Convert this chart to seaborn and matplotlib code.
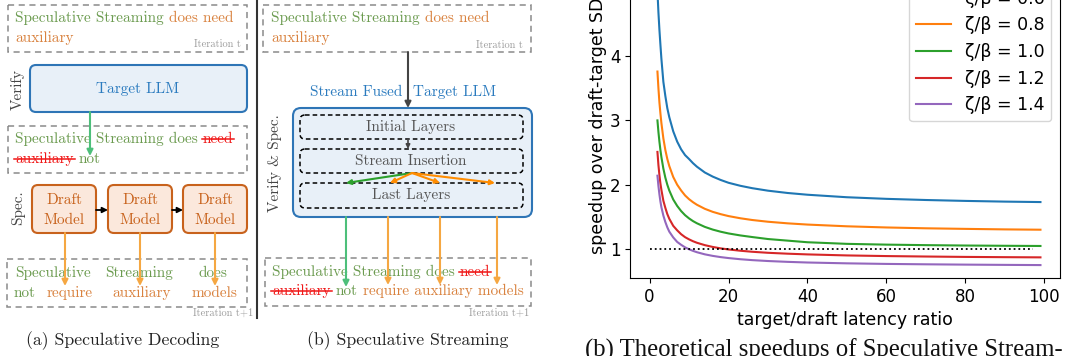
import matplotlib
matplotlib.use("Agg")
import pandas as pd
import matplotlib.pyplot as plt
import seaborn as sns
from matplotlib.patches import FancyBboxPatch, Rectangle

# ---- chart data ----
latency_ratio = [2, 2.25, 2.5, 2.75, 3, 3.5, 4, 4.5, 5, 6, 7, 8, 9, 10, 11, 12, 14, 16, 18, 20,
                 23, 26, 30, 35, 40, 50, 60, 70, 80, 90, 99]
speedup_06 = [5.01, 4.68, 4.41, 4.18, 3.96, 3.60, 3.38, 3.19, 3.05, 2.83, 2.67, 2.55, 2.46, 2.40, 2.335,
              2.28, 2.19, 2.126, 2.074, 2.03, 1.983, 1.946, 1.907, 1.871, 1.844, 1.805, 1.78, 1.762,
              1.748, 1.737, 1.73]
speedup_08 = [3.76, 3.50, 3.28, 3.11, 2.96, 2.72, 2.54, 2.40, 2.29, 2.12, 2.00, 1.91, 1.833, 1.775, 1.728,
              1.688, 1.625, 1.578, 1.542, 1.512, 1.478, 1.451, 1.424, 1.399, 1.38, 1.353, 1.335, 1.322,
              1.313, 1.305, 1.30]
speedup_10 = [3.00, 2.82, 2.67, 2.54, 2.43, 2.25, 2.11, 2.00, 1.91, 1.77, 1.67, 1.59, 1.526, 1.476, 1.434,
              1.40, 1.344, 1.302, 1.269, 1.242, 1.211, 1.186, 1.155, 1.13, 1.105, 1.08, 1.068, 1.06,
              1.054, 1.05, 1.047]
speedup_12 = [2.51, 2.305, 2.15, 2.02, 1.92, 1.75, 1.64, 1.543, 1.47, 1.36, 1.29, 1.23, 1.184, 1.15, 1.121,
              1.097, 1.06, 1.032, 1.01, 0.993, 0.973, 0.957, 0.941, 0.927, 0.916, 0.90, 0.89, 0.883,
              0.877, 0.873, 0.87]
speedup_14 = [2.14, 1.98, 1.85, 1.74, 1.65, 1.52, 1.42, 1.337, 1.27, 1.18, 1.11, 1.065, 1.026, 0.996, 0.971,
              0.95, 0.917, 0.893, 0.874, 0.859, 0.841, 0.827, 0.813, 0.80, 0.79, 0.777, 0.768, 0.762,
              0.757, 0.753, 0.75]
ratio_labels = ["ζ/β = 0.6", "ζ/β = 0.8", "ζ/β = 1.0", "ζ/β = 1.2", "ζ/β = 1.4"]
baseline_x = [0, 97]
baseline_y = [1, 1]
x_ticks = [0, 20, 40, 60, 80, 100]
y_ticks = [1, 2, 3, 4, 5]

# ---- diagram text ----
verified_words = "Speculative Streaming"
draft_tokens_t = "does need"
draft_tokens_t2 = "auxiliary"
rejected_words = ["need", "auxiliary"]
accepted_word = "not"
new_draft_words = ["require", "auxiliary", "models"]
sd_row1 = ["Speculative", "Streaming", "does"]
sd_row2 = ["not", "require", "auxiliary", "models"]
layer_names = ["Initial Layers", "Stream Insertion", "Last Layers"]

SERIF = ["cmr10", "DejaVu Serif"]
GREEN_TXT = "#6b9b4f"
ORANGE_TXT = "#d9823f"
RED_TXT = "#f01818"
BLUE_TXT = "#2b7bbf"
BLUE_EDGE = "#2e75b6"
BLUE_FILL = "#e8f0f8"
ORANGE_EDGE = "#c8621c"
ORANGE_FILL = "#fbe8dc"
DASH_GRAY = "#8a8a8a"
ITER_GRAY = "#9a9a9a"
ARROW_ORANGE = "#f5a742"
ARROW_GREEN = "#4dbf7a"
TXT_SIZE = 11

fig = plt.figure(figsize=(10.65, 3.56), dpi=100)
renderer = fig.canvas.get_renderer()

# left part: two diagrams drawn in pixel units
dg = fig.add_axes([0, 0, 560 / 1065, 1])
dg.set_xlim(0, 560)
dg.set_ylim(356, 0)
dg.axis("off")


def text_line(x, y, pieces, size=TXT_SIZE):
    """Write coloured pieces one after another, striking through some of them."""
    gap = 0.333 * size * 100 / 72
    for txt, color, struck in pieces:
        t = dg.text(x, y, txt, color=color, fontsize=size, family=SERIF, ha="left", va="baseline")
        w = t.get_window_extent(renderer).width
        if struck:
            dg.plot([x - 1, x + w + 1], [y - 3.6, y - 3.6], color=color, lw=1.1, zorder=4)
        x += w + gap


def dashed_box(x0, y0, x1, y1):
    dg.add_patch(Rectangle((x0, y0), x1 - x0, y1 - y0, fill=False, ec=DASH_GRAY,
                           lw=1.1, ls=(0, (4, 3))))


def round_box(x0, y0, x1, y1, ec, fc, ls="-", lw=1.5, r=6):
    dg.add_patch(FancyBboxPatch((x0, y0), x1 - x0, y1 - y0, boxstyle=f"round,pad=0,rounding_size={r}",
                                ec=ec, fc=fc, ls=ls, lw=lw))


def arrow(x0, y0, x1, y1, color, lw=1.5, ms=9):
    dg.annotate("", xy=(x1, y1), xytext=(x0, y0),
                arrowprops=dict(arrowstyle="-|>", color=color, lw=lw, shrinkA=0, shrinkB=0,
                                mutation_scale=ms), zorder=5)


def iter_label(x, y, txt):
    dg.text(x, y, txt, color=ITER_GRAY, fontsize=7.5, family=SERIF, ha="right", va="baseline")


# ----- (a) Speculative Decoding -----
dashed_box(8, 5, 247, 52)
text_line(15, 22, [(verified_words, GREEN_TXT, False), (draft_tokens_t, ORANGE_TXT, False)])
text_line(15, 42, [(draft_tokens_t2, ORANGE_TXT, False)])
iter_label(241, 47, "Iteration t")

round_box(30, 65, 247, 112, BLUE_EDGE, BLUE_FILL)
dg.text(138, 89, "Target LLM", color=BLUE_TXT, fontsize=TXT_SIZE, family=SERIF, ha="center", va="center")
dg.text(18, 89, "Verify", color="#444444", fontsize=TXT_SIZE, family=SERIF, rotation=90,
        ha="center", va="center")

dashed_box(8, 126, 247, 173)
text_line(15, 143, [(verified_words + " does", GREEN_TXT, False), (rejected_words[0], RED_TXT, True)])
text_line(15, 163, [(rejected_words[1], RED_TXT, True), (accepted_word, GREEN_TXT, False)])
arrow(90, 112, 90, 156, ARROW_GREEN)

draft_boxes = [(32, 96), (108, 172), (183, 247)]
for bx0, bx1 in draft_boxes:
    round_box(bx0, 185, bx1, 233, ORANGE_EDGE, ORANGE_FILL)
    cx = (bx0 + bx1) / 2
    dg.text(cx, 200, "Draft", color=ORANGE_EDGE, fontsize=TXT_SIZE, family=SERIF, ha="center", va="center")
    dg.text(cx, 220, "Model", color=ORANGE_EDGE, fontsize=TXT_SIZE, family=SERIF, ha="center", va="center")
for (a0, a1), (b0, b1) in zip(draft_boxes[:-1], draft_boxes[1:]):
    arrow(a1, 210, b0, 210, "black", lw=1.3, ms=8)
dg.text(18, 208, "Spec.", color="#444444", fontsize=TXT_SIZE, family=SERIF, rotation=90,
        ha="center", va="center")

dashed_box(7, 259, 247, 307)
for word, cx in zip(sd_row1, [52.5, 139, 212.5]):
    dg.text(cx, 277, word, color=GREEN_TXT, fontsize=TXT_SIZE, family=SERIF, ha="center", va="baseline")
row2_colors = [GREEN_TXT, ORANGE_TXT, ORANGE_TXT, ORANGE_TXT]
for word, cx, col in zip(sd_row2, [25, 69.5, 141.5, 214.5], row2_colors):
    dg.text(cx, 297, word, color=col, fontsize=TXT_SIZE, family=SERIF, ha="center", va="baseline")
for ax_x in [65, 140, 215]:
    arrow(ax_x, 233, ax_x, 286, ARROW_ORANGE)
iter_label(253, 316, "Iteration t+1")
dg.text(123, 345, "(a) Speculative Decoding", color="#222222", fontsize=12.7, family=SERIF,
        ha="center", va="baseline")

# divider
dg.plot([257, 257], [0, 318], color="#333333", lw=1.5)

# ----- (b) Speculative Streaming -----
dashed_box(263, 5, 531, 52)
text_line(271, 22, [(verified_words, GREEN_TXT, False), (draft_tokens_t, ORANGE_TXT, False)])
text_line(271, 42, [(draft_tokens_t2, ORANGE_TXT, False)])
iter_label(523, 48, "Iteration t")

arrow(408, 52, 408, 108, "#444444")
dg.text(402, 92, "Stream Fused", color=BLUE_TXT, fontsize=TXT_SIZE, family=SERIF, ha="right", va="center")
dg.text(413, 92, "Target LLM", color=BLUE_TXT, fontsize=TXT_SIZE, family=SERIF, ha="left", va="center")

round_box(293, 108, 532, 217, BLUE_EDGE, BLUE_FILL, r=8)
layer_rows = [(115, 139), (149, 173), (183, 208)]
for name, (ly0, ly1) in zip(layer_names, layer_rows):
    round_box(300, ly0, 523, ly1, "black", "none", ls=(0, (3, 2)), lw=1.1, r=5)
    dg.text(411, (ly0 + ly1) / 2, name, color="#555555", fontsize=TXT_SIZE, family=SERIF,
            ha="center", va="center")
arrow(408, 139, 408, 149, "#444444", lw=1.2, ms=6)
dg.text(275, 163, "Verify & Spec.", color="#444444", fontsize=TXT_SIZE, family=SERIF, rotation=90,
        ha="center", va="center")

arrow(412, 173, 346, 183, "#2ca02c", lw=1.5, ms=7)
for tx in [390, 440, 495]:
    arrow(412, 173, tx, 183, "#ff8c00", lw=1.5, ms=7)

dashed_box(265, 258, 531, 306)
text_line(272, 276, [(verified_words + " does", GREEN_TXT, False), (rejected_words[0], RED_TXT, True)])
text_line(272, 295, [(rejected_words[1], RED_TXT, True), (accepted_word, GREEN_TXT, False),
                     (" ".join(new_draft_words), ORANGE_TXT, False)])
arrow(346, 217, 346, 287, ARROW_GREEN)
for tx in [388, 440, 497]:
    arrow(tx, 217, tx, 285, ARROW_ORANGE)
iter_label(529, 316, "Iteration t+1")
dg.text(408, 345, "(b) Speculative Streaming", color="#222222", fontsize=12.7, family=SERIF,
        ha="center", va="baseline")

# ----- right: theoretical speedup chart -----
series = [speedup_06, speedup_08, speedup_10, speedup_12, speedup_14]
df = pd.concat([pd.DataFrame({"ratio": latency_ratio, "speedup": s, "curve": lab})
                for s, lab in zip(series, ratio_labels)], ignore_index=True)

ax = fig.add_axes([630 / 1065, 78 / 356, 430 / 1065, 304 / 356])
palette = ["#1f77b4", "#ff7f0e", "#2ca02c", "#d62728", "#9467bd"]
sns.lineplot(data=df, x="ratio", y="speedup", hue="curve", hue_order=ratio_labels,
             palette=palette, linewidth=1.5, ax=ax)
ax.plot(baseline_x, baseline_y, color="black", linestyle=":", linewidth=1.3)

ax.set_xlim(-4.95, 103.95)
ax.set_ylim(0.549, 5.277)
ax.set_xticks(x_ticks)
ax.set_yticks(y_ticks)
ax.tick_params(labelsize=12)
ax.set_xlabel("target/draft latency ratio", fontsize=12.5)
ax.set_ylabel("speedup over draft-target SD", fontsize=12.5, labelpad=2)

leg = ax.get_legend()
handles = leg.legend_handles
labels = [t.get_text() for t in leg.get_texts()]
ax.legend(handles, labels, loc="upper right", fontsize=12.5)

fig.text(585 / 1065, -1 / 356, "(b) Theoretical speedups of Speculative Stream-",
         family=["Liberation Serif", "DejaVu Serif"], fontsize=17.8, ha="left", va="baseline", color="#111111")

fig.savefig("out.png", dpi=100)
